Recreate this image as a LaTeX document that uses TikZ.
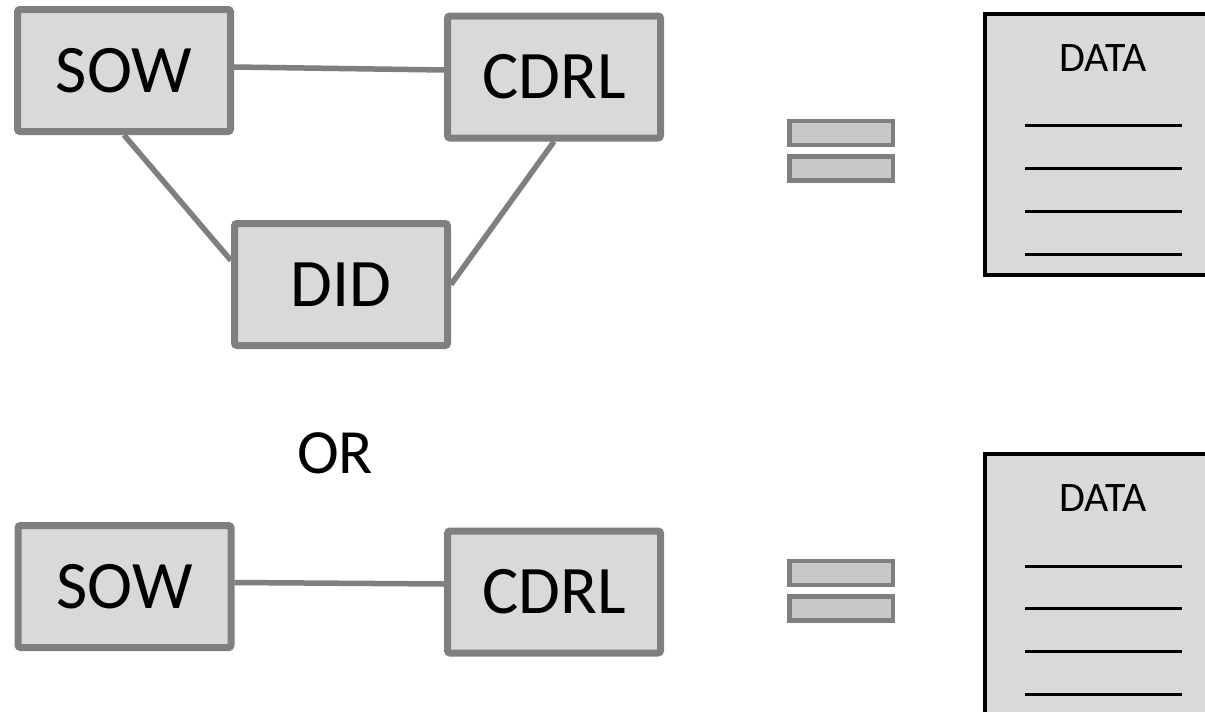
\documentclass[tikz,border=0pt]{standalone}
\usepackage{fontspec}
\setmainfont{Carlito}
\begin{document}
\begin{tikzpicture}[x=1pt,y=-1pt,
  docbox/.style={draw=boxgray,fill=boxfill,line width=7pt,rounded corners=2.5pt,
    minimum width=213pt,minimum height=122pt,inner sep=0pt,
    font=\fontsize{68}{80}\selectfont},
  link/.style={draw=boxgray,line width=5.5pt},
  eqbar/.style={draw=boxgray,fill=eqfill,line width=4.5pt,
    minimum width=103.5pt,minimum height=24pt,inner sep=0pt},
  databox/.style={draw=black,fill=boxfill,line width=4pt,
    minimum width=236pt,minimum height=261pt,inner sep=0pt},
  datalabel/.style={font=\fontsize{42}{50}\selectfont,inner sep=0pt},
  dataline/.style={draw=black,line width=3pt},
  orlabel/.style={font=\fontsize{63}{75}\selectfont,inner sep=0pt}]
\definecolor{boxgray}{HTML}{7F7F7F}
\definecolor{boxfill}{HTML}{D9D9D9}
\definecolor{eqfill}{HTML}{C8C8C8}
\clip (0,0) rectangle (1205,712);
\fill[white] (0,0) rectangle (1205,712);

% top group
\node[docbox] (sowT) at (124,70.5) {SOW};
\node[docbox] (cdrlT) at (554,77) {CDRL};
\node[docbox] (did) at (341,284.5) {DID};
\draw[link] ([yshift=3.5pt]sowT.east) -- ([yshift=7pt]cdrlT.west);
\draw[link] (sowT.south) -- ([yshift=24pt]did.west);
\draw[link] (cdrlT.south) -- (did.east);

% top equals and data sheet
\node[eqbar] (eqTa) at (841,133) {};
\node[eqbar] (eqTb) at (841,168.5) {};
\node[databox] (dataT) at (1103,144.5) {};
\node[datalabel] (dataTl) at (1103,58) {DATA};
\foreach \yy in {125,168,211,254}
  \draw[dataline] (1025,\yy) -- (1182,\yy);

% OR
\node[orlabel] (or) at (335,453) {OR};

% bottom group
\node[docbox] (sowB) at (124.5,586.5) {SOW};
\node[docbox] (cdrlB) at (554,592) {CDRL};
\draw[link] ([yshift=4pt]sowB.east) -- ([yshift=8pt]cdrlB.west);

% bottom equals and data sheet
\node[eqbar] (eqBa) at (841,573) {};
\node[eqbar] (eqBb) at (841,608.5) {};
\node[databox] (dataB) at (1103,584) {};
\node[datalabel] (dataBl) at (1103,498) {DATA};
\foreach \yy in {566,608,651,694}
  \draw[dataline] (1025,\yy) -- (1182,\yy);
\end{tikzpicture}
\end{document}
